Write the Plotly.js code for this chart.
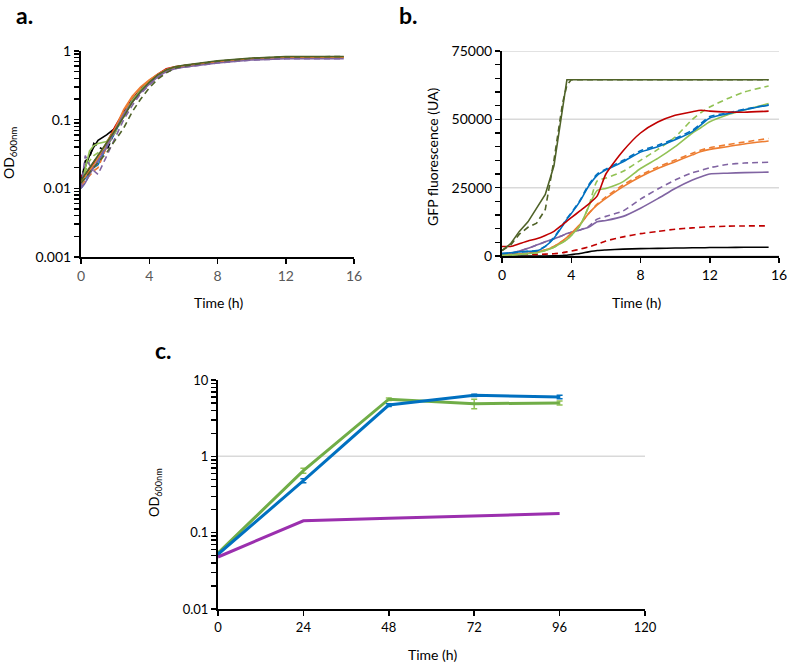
<!DOCTYPE html>
<html>
<head>
<meta charset="utf-8">
<script src="https://cdn.plot.ly/plotly-3.0.1.min.js"></script>
<style>html,body{margin:0;padding:0;background:#fff;}#chart{width:787px;height:663px;}</style>
</head>
<body>
<div id="chart"></div>
<script>
// ---------- Panel a: OD600 (log) vs time ----------
const timeA = [0, 0.25, 0.5, 0.75, 1, 1.5, 2, 2.5, 3, 3.5, 4, 4.5, 5, 5.5, 6, 8, 10, 12, 15.4];
const odBlackSolid  = [0.014, 0.02, 0.03, 0.04, 0.05, 0.06, 0.075, 0.12, 0.19, 0.27, 0.36, 0.45, 0.53, 0.58, 0.61, 0.70, 0.77, 0.81, 0.82];
const odBlackDash   = [0.012, 0.025, 0.028, 0.045, 0.04, 0.035, 0.07, 0.11, 0.18, 0.26, 0.35, 0.44, 0.52, 0.58, 0.61, 0.70, 0.77, 0.81, 0.82];
const odRedSolid    = [0.015, 0.016, 0.019, 0.023, 0.028, 0.045, 0.08, 0.13, 0.2, 0.28, 0.37, 0.46, 0.55, 0.59, 0.61, 0.70, 0.77, 0.81, 0.81];
const odRedDash     = [0.013, 0.015, 0.02, 0.024, 0.03, 0.04, 0.07, 0.12, 0.19, 0.27, 0.36, 0.45, 0.53, 0.58, 0.61, 0.70, 0.77, 0.80, 0.80];
const odBlueSolid   = [0.012, 0.014, 0.017, 0.02, 0.022, 0.04, 0.065, 0.12, 0.19, 0.27, 0.36, 0.45, 0.53, 0.58, 0.61, 0.70, 0.77, 0.81, 0.82];
const odBlueDash    = [0.01, 0.012, 0.016, 0.022, 0.025, 0.045, 0.07, 0.12, 0.19, 0.27, 0.36, 0.45, 0.53, 0.58, 0.61, 0.70, 0.77, 0.81, 0.82];
const odGreenSolid  = [0.011, 0.02, 0.035, 0.042, 0.045, 0.048, 0.07, 0.12, 0.19, 0.27, 0.36, 0.45, 0.53, 0.58, 0.61, 0.70, 0.77, 0.81, 0.82];
const odGreenDash   = [0.012, 0.017, 0.025, 0.03, 0.033, 0.04, 0.065, 0.11, 0.18, 0.26, 0.35, 0.44, 0.52, 0.57, 0.6, 0.70, 0.77, 0.81, 0.82];
const odOrangeSolid = [0.012, 0.015, 0.018, 0.022, 0.028, 0.045, 0.075, 0.14, 0.22, 0.3, 0.38, 0.46, 0.54, 0.59, 0.61, 0.70, 0.77, 0.81, 0.82];
const odOrangeDash  = [0.011, 0.013, 0.015, 0.018, 0.02, 0.04, 0.07, 0.13, 0.21, 0.29, 0.37, 0.45, 0.53, 0.58, 0.61, 0.70, 0.77, 0.81, 0.82];
const odPurpleSolid = [0.01, 0.012, 0.016, 0.02, 0.025, 0.04, 0.07, 0.12, 0.18, 0.25, 0.33, 0.42, 0.5, 0.55, 0.58, 0.67, 0.74, 0.77, 0.77];
const odPurpleDash  = [0.01, 0.03, 0.022, 0.018, 0.016, 0.03, 0.055, 0.1, 0.16, 0.24, 0.32, 0.41, 0.49, 0.55, 0.58, 0.67, 0.74, 0.77, 0.77];
const odOliveSolid  = [0.013, 0.016, 0.02, 0.025, 0.03, 0.045, 0.07, 0.11, 0.18, 0.26, 0.35, 0.45, 0.53, 0.59, 0.62, 0.72, 0.79, 0.83, 0.83];
const odOliveDash   = [0.012, 0.014, 0.017, 0.02, 0.023, 0.033, 0.05, 0.075, 0.13, 0.2, 0.29, 0.39, 0.48, 0.56, 0.6, 0.71, 0.78, 0.82, 0.83];

// ---------- Panel b: GFP fluorescence vs time ----------
const timeB = [0, 0.5, 1, 1.5, 2, 2.5, 3, 3.5, 3.75, 4, 4.5, 5, 5.5, 6, 7, 8, 9, 10, 11, 11.5, 12, 13, 14, 15.4];
const gfpBlackSolid  = [0, 0, 0, 0, 0, 0, 50, 200, 300, 500, 900, 1500, 2000, 2200, 2500, 2700, 2800, 2900, 3000, 3000, 3100, 3100, 3200, 3200];
const gfpRedDash     = [800, 700, 700, 600, 600, 700, 800, 1200, 1500, 1800, 2500, 3300, 4300, 5500, 7000, 8200, 9000, 9800, 10300, 10500, 10700, 10900, 11000, 11000];
const gfpPurpleSolid = [700, 1000, 1800, 2800, 4000, 5200, 6300, 7500, 8200, 8700, 9500, 10500, 12500, 13000, 14500, 17500, 21000, 24700, 27800, 29000, 30000, 30300, 30500, 30700];
const gfpPurpleDash  = [700, 1000, 1800, 2800, 4000, 5200, 6300, 7500, 8200, 8700, 9500, 10800, 13500, 14500, 16500, 20800, 24500, 27800, 30500, 31300, 32300, 33500, 34000, 34300];
const gfpOrangeSolid = [500, 600, 800, 1000, 1500, 2200, 3500, 5500, 6800, 8300, 11500, 15500, 18700, 21100, 25400, 29000, 32000, 34500, 37000, 38200, 39000, 40000, 41000, 42100];
const gfpOrangeDash  = [500, 600, 800, 1000, 1500, 2200, 3500, 5500, 6800, 8300, 11500, 15500, 19000, 21600, 26000, 29600, 32600, 35100, 37600, 38800, 39600, 40700, 41700, 43000];
const gfpGreenSolid  = [300, 400, 600, 800, 1200, 2000, 3200, 5000, 6000, 7500, 11000, 18000, 24000, 24700, 27200, 32000, 35700, 40000, 45000, 47000, 49100, 51600, 53400, 55800];
const gfpGreenDash   = [300, 400, 600, 800, 1200, 2000, 3200, 5000, 6000, 7500, 11000, 18000, 27500, 28500, 31000, 35000, 39000, 43500, 50000, 52500, 54500, 57500, 60000, 62200];
const gfpBlueDash    = [800, 1100, 1400, 1700, 2000, 3500, 6800, 11300, 13800, 15800, 20300, 26000, 30000, 31800, 35000, 38500, 40500, 43000, 46000, 48500, 51000, 52300, 53700, 55300];
const gfpBlueSolid   = [1000, 1200, 1500, 1700, 1800, 3500, 6500, 11000, 13500, 15500, 20000, 25500, 29500, 31500, 34500, 38000, 40000, 42500, 45500, 48000, 50500, 52000, 53500, 55200];
const gfpRedSolid    = [3500, 3500, 4500, 5500, 6300, 7500, 9000, 11500, 12800, 14000, 16500, 19000, 22000, 30000, 38500, 45000, 49000, 51500, 52800, 53300, 53000, 52700, 52600, 53000];
const gfpOliveDash   = [2000, 4000, 8000, 10500, 12000, 17000, 35000, 56000, 62500, 64500, 64500, 64500, 64500, 64500, 64500, 64500, 64500, 64500, 64500, 64500, 64500, 64500, 64500, 64500];
const gfpOliveSolid  = [2000, 4500, 9000, 12500, 17500, 22500, 33000, 55000, 64500, 64500, 64500, 64500, 64500, 64500, 64500, 64500, 64500, 64500, 64500, 64500, 64500, 64500, 64500, 64500];

// ---------- Panel c: OD600 (log) over 96 h ----------
const timeC = [0, 24, 48, 72, 96];
const odGreenC   = [0.054, 0.65, 5.6, 4.9, 5.0];
const odGreenErr = [0.003, 0.05, 0.2, 0.7, 0.3];
const odBlueC    = [0.052, 0.48, 4.7, 6.3, 6.0];
const odBlueErr  = [0.003, 0.03, 0.2, 0.2, 0.3];
const odPurpleC  = [0.048, 0.143, 0.155, 0.165, 0.178];

// tick labels
const ticksA = [0.001, 0.01, 0.1, 1];
const ticksC = [0.01, 0.1, 1, 10];
const ticksB = [0, 25000, 50000, 75000];

const C = {black:'#000000', red:'#C00000', blue:'#0070C0', green:'#92C255', orange:'#ED7D31', purple:'#8064A2', olive:'#4F6228'};
const DASH = '6px,4px';
const FONT = 'Lato, "Open Sans", sans-serif';

function ln(x, y, color, dashed, xa, ya, width, shape) {
  return {x: x, y: y, type: 'scatter', mode: 'lines', xaxis: xa, yaxis: ya, showlegend: false, hoverinfo: 'skip',
          line: {color: color, width: width || 1.6, dash: dashed ? DASH : 'solid', shape: shape || 'linear', smoothing: 0.6}};
}

const traces = [];
[[odBlackSolid, C.black, 0], [odBlackDash, C.black, 1], [odRedDash, C.red, 1], [odRedSolid, C.red, 0],
 [odBlueDash, C.blue, 1], [odBlueSolid, C.blue, 0], [odGreenDash, C.green, 1], [odGreenSolid, C.green, 0],
 [odOrangeDash, C.orange, 1], [odOrangeSolid, C.orange, 0], [odPurpleDash, C.purple, 1], [odPurpleSolid, C.purple, 0],
 [odOliveDash, C.olive, 1], [odOliveSolid, C.olive, 0]
].forEach(s => traces.push(ln(timeA, s[0], s[1], s[2], 'x', 'y', 1.6)));
[[gfpBlackSolid, C.black, 0, 'spline'], [gfpRedDash, C.red, 1, 'spline'], [gfpPurpleSolid, C.purple, 0, 'spline'],
 [gfpPurpleDash, C.purple, 1, 'spline'], [gfpOrangeDash, C.orange, 1, 'spline'], [gfpOrangeSolid, C.orange, 0, 'spline'],
 [gfpGreenSolid, C.green, 0, 'spline'], [gfpGreenDash, C.green, 1, 'spline'], [gfpBlueDash, C.blue, 1, 'spline'],
 [gfpBlueSolid, C.blue, 0, 'spline'], [gfpRedSolid, C.red, 0, 'spline'], [gfpOliveDash, C.olive, 1, 'linear'],
 [gfpOliveSolid, C.olive, 0, 'linear']
].forEach(s => traces.push(ln(timeB, s[0], s[1], s[2], 'x2', 'y2', 1.6, s[3])));
const cG = ln(timeC, odGreenC, '#70AD47', 0, 'x3', 'y3', 3);
cG.error_y = {type: 'data', array: odGreenErr, visible: true, color: '#92C255', thickness: 1.5, width: 3};
const cB = ln(timeC, odBlueC, '#0070C0', 0, 'x3', 'y3', 3);
cB.error_y = {type: 'data', array: odBlueErr, visible: true, color: '#0070C0', thickness: 1.5, width: 3};
const cP = ln(timeC, odPurpleC, '#9B2FAE', 0, 'x3', 'y3', 3);
traces.push(cG, cB, cP);

const W = 787, H = 663;
const px = v => v / W, py = v => 1 - v / H;

// major + minor tick positions, labels only on majors
function logTicks(majors) {
  const vals = [], text = [];
  majors.forEach((m, i) => {
    vals.push(m); text.push(String(m));
    if (i < majors.length - 1) for (let d = 2; d <= 9; d++) { vals.push(d * m); text.push(''); }
  });
  return {vals, text};
}
function linTicks(majors, step) {
  const vals = [], text = [];
  for (let t = majors[0]; t <= majors[majors.length - 1] + 1e-9; t += step) {
    vals.push(t); text.push(majors.includes(t) ? String(t) : '');
  }
  return {vals, text};
}
const tA = logTicks(ticksA), tC = logTicks(ticksC), tB = linTicks(ticksB, 5000);

// horizontal gridlines at the major ticks
const GRID = {type: 'line', x0: 0, x1: 1, line: {color: '#D9D9D9', width: 1.5}, layer: 'below'};
const shapes = [];
ticksA.forEach(v => shapes.push(Object.assign({xref: 'x domain', yref: 'y', y0: Math.log10(v), y1: Math.log10(v)}, GRID)));
ticksB.forEach(v => shapes.push(Object.assign({xref: 'x2 domain', yref: 'y2', y0: v, y1: v}, GRID)));
ticksC.forEach(v => shapes.push(Object.assign({xref: 'x3 domain', yref: 'y3', y0: Math.log10(v), y1: Math.log10(v)}, GRID)));

const axBase = {showline: true, linecolor: '#000', linewidth: 2, ticks: 'outside', ticklen: 5, tickwidth: 1.5,
                tickcolor: '#000', zeroline: false, fixedrange: true, ticklabeloverflow: 'allow', showgrid: false,
                tickfont: {family: FONT, size: 14, color: '#000'}};

const layout = {
  width: W, height: H, margin: {l: 0, r: 0, t: 0, b: 0}, paper_bgcolor: '#fff', plot_bgcolor: '#fff',
  font: {family: FONT, color: '#000'}, showlegend: false, shapes: shapes,
  xaxis: Object.assign({}, axBase, {domain: [px(81), px(354)], range: [0, 16], tickmode: 'linear', tick0: 0, dtick: 4,
          anchor: 'y', tickfont: {family: FONT, size: 14, color: '#595959'}}),
  yaxis: Object.assign({}, axBase, {domain: [py(257), py(51)], type: 'log', range: [-3, 0],
          tickmode: 'array', tickvals: tA.vals, ticktext: tA.text, anchor: 'x'}),
  xaxis2: Object.assign({}, axBase, {domain: [px(502), px(779)], range: [0, 16], tickmode: 'linear', tick0: 0, dtick: 4,
          anchor: 'y2'}),
  yaxis2: Object.assign({}, axBase, {domain: [py(256), py(51)], range: [0, 75000],
          tickmode: 'array', tickvals: tB.vals, ticktext: tB.text, anchor: 'x2'}),
  xaxis3: Object.assign({}, axBase, {domain: [px(218), px(645)], range: [0, 120], tickmode: 'linear', tick0: 0, dtick: 24,
          anchor: 'y3', tickfont: {family: FONT, size: 13, color: '#000'}}),
  yaxis3: Object.assign({}, axBase, {domain: [py(609), py(380)], type: 'log', range: [-2, 1],
          tickmode: 'array', tickvals: tC.vals, ticktext: tC.text, anchor: 'x3',
          tickfont: {family: FONT, size: 13, color: '#000'}}),
  annotations: [
    {text: '<b>a.</b>', x: px(24), y: py(15), font: {size: 23}},
    {text: '<b>b.</b>', x: px(408), y: py(15), font: {size: 23}},
    {text: '<b>c.</b>', x: px(163), y: py(350), font: {size: 23}},
    {text: 'OD<sub>600nm</sub>', x: px(9), y: py(153), textangle: -90, font: {size: 14}},
    {text: 'GFP fluorescence (UA)', x: px(432), y: py(157), textangle: -90, font: {size: 14}},
    {text: 'Time (h)', x: px(218), y: py(303), font: {size: 14}},
    {text: 'Time (h)', x: px(636), y: py(303), font: {size: 14}},
    {text: 'OD<sub>600nm</sub>', x: px(155), y: py(493), textangle: -90, font: {size: 13}},
    {text: 'Time (h)', x: px(432), y: py(654), font: {size: 14}}
  ].map(a => Object.assign({xref: 'paper', yref: 'paper', showarrow: false, xanchor: 'center', yanchor: 'middle'}, a,
        {font: Object.assign({family: FONT, color: '#000'}, a.font)}))
};

Plotly.newPlot('chart', traces, layout, {staticPlot: true, displayModeBar: false});
</script>
</body>
</html>
